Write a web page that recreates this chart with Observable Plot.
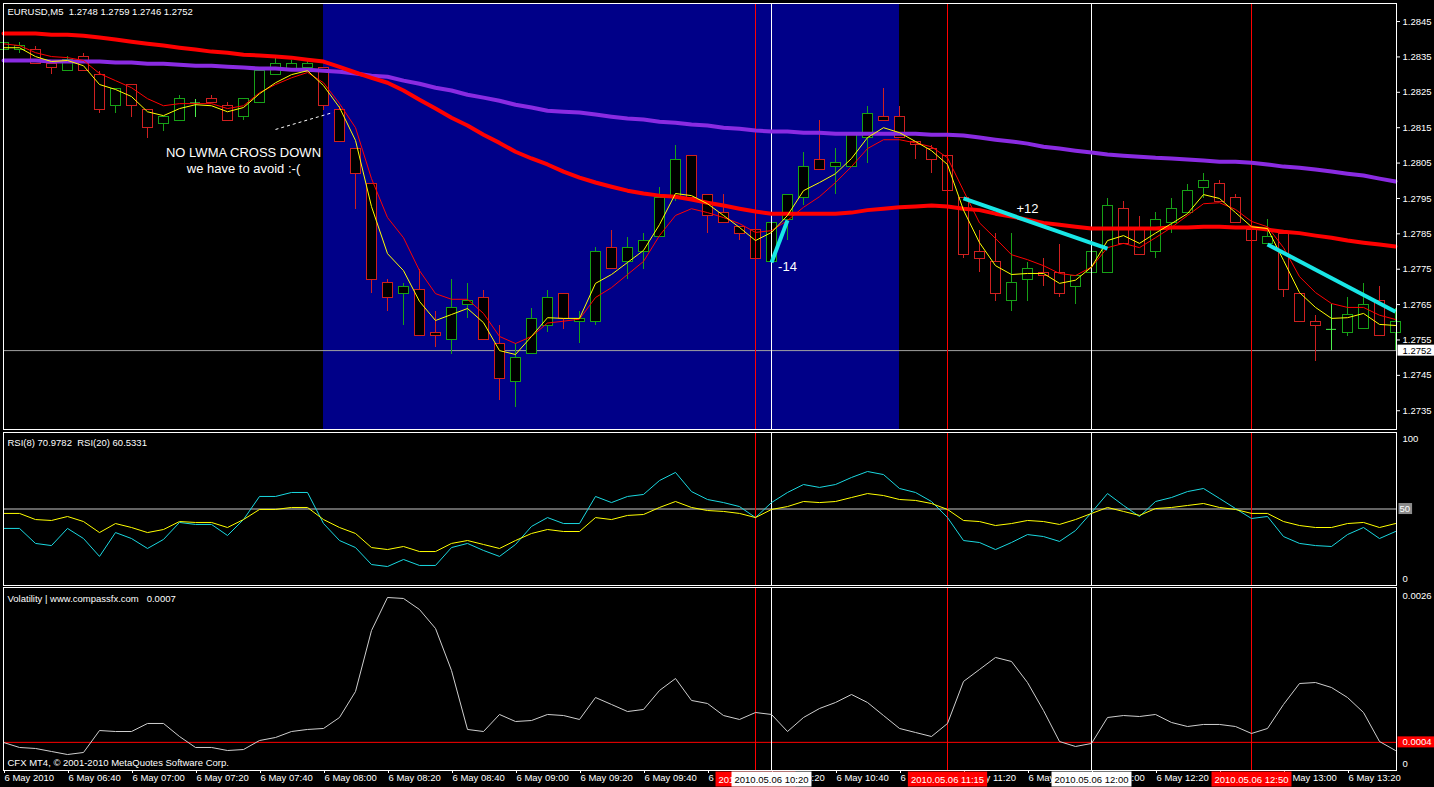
<!DOCTYPE html>
<html><head><meta charset="utf-8">
<script src="https://cdn.jsdelivr.net/npm/d3@7"></script>
<script src="https://cdn.jsdelivr.net/npm/@observablehq/plot@0.6"></script>
<style>
html,body{margin:0;padding:0;background:#000;}
#chart{position:relative;width:1434px;height:787px;background:#000;overflow:hidden;}
#chart > div{position:absolute;left:0;}
</style></head><body>
<div id="chart"><div id="pMain" style="top:0"></div><div id="pRsi" style="top:430px"></div><div id="pVol" style="top:586px"></div></div>
<script>
// ---------- DATA ----------
const firstBarTime = "06:20";   // M5 bars, 6 May 2010
const barMinutes = 5;

const open = [1.2837,1.2837,1.2837,1.2833,1.2831,1.2835,1.2830,1.2821,1.2827,1.2820,
1.2816,1.2817,1.2822,1.2823,1.2821,1.2818,1.2822,1.2830,1.2831,1.2832,
1.2832,1.2820,1.2809,1.2799,1.2771,1.2768,1.2769,1.2757,1.2755,1.2765,
1.2767,1.2754,1.2743,1.2751,1.2759,1.2768,1.2760,1.2760,1.2781,1.2777,
1.2780,1.2784,1.2795,1.2807,1.2796,1.2791,1.2787,1.2786,1.2777,1.2789,
1.2795,1.2806,1.2804,1.2804,1.2812,1.2818,1.2818,1.2811,1.2809,1.2807,
1.2795,1.2780,1.2777,1.2766,1.2772,1.2774,1.2774,1.2770,1.2774,1.2774,
1.2792,1.2786,1.2780,1.2788,1.2791,1.2798,1.2799,1.2795,1.2786,1.2782,
1.2785,1.2768,1.2760,1.2758,1.2757,1.2758,1.2766,1.2757];
const high = [1.2840,1.2839,1.2838,1.2834,1.2835,1.2836,1.2831,1.2826,1.2827,1.2820,
1.2818,1.2824,1.2823,1.2824,1.2822,1.2823,1.2831,1.2835,1.2834,1.2834,
1.2832,1.2821,1.2809,1.2799,1.2772,1.2771,1.2775,1.2763,1.2772,1.2771,
1.2769,1.2759,1.2754,1.2764,1.2769,1.2768,1.2763,1.2781,1.2786,1.2784,
1.2785,1.2798,1.2810,1.2807,1.2796,1.2796,1.2787,1.2786,1.2788,1.2796,
1.2808,1.2817,1.2809,1.2813,1.2821,1.2826,1.2821,1.2811,1.2810,1.2807,
1.2795,1.2786,1.2785,1.2785,1.2777,1.2778,1.2782,1.2773,1.2780,1.2795,
1.2794,1.2790,1.2791,1.2795,1.2799,1.2802,1.2800,1.2796,1.2786,1.2789,
1.2785,1.2768,1.2762,1.2765,1.2767,1.2771,1.2770,1.2764];
const low = [1.2836,1.2836,1.2833,1.2830,1.2831,1.2831,1.2819,1.2819,1.2818,1.2812,
1.2814,1.2817,1.2818,1.2822,1.2817,1.2817,1.2822,1.2830,1.2831,1.2832,
1.2820,1.2811,1.2792,1.2768,1.2763,1.2759,1.2756,1.2753,1.2751,1.2761,
1.2755,1.2738,1.2736,1.2751,1.2757,1.2758,1.2754,1.2759,1.2775,1.2772,
1.2775,1.2784,1.2794,1.2795,1.2785,1.2788,1.2783,1.2778,1.2777,1.2783,
1.2793,1.2803,1.2796,1.2804,1.2805,1.2817,1.2812,1.2806,1.2802,1.2797,
1.2778,1.2774,1.2766,1.2763,1.2766,1.2770,1.2767,1.2765,1.2774,1.2774,
1.2782,1.2779,1.2778,1.2785,1.2791,1.2795,1.2794,1.2788,1.2783,1.2782,
1.2767,1.2760,1.2749,1.2752,1.2756,1.2758,1.2756,1.2752];
const close = [1.2839,1.2838,1.2833,1.2832,1.2834,1.2831,1.2820,1.2826,1.2821,1.2815,
1.2818,1.2823,1.2822,1.2822,1.2817,1.2823,1.2831,1.2833,1.2833,1.2833,
1.2821,1.2811,1.2802,1.2772,1.2767,1.2770,1.2756,1.2756,1.2764,1.2766,
1.2755,1.2744,1.2750,1.2761,1.2767,1.2761,1.2761,1.2780,1.2775,1.2781,
1.2783,1.2795,1.2806,1.2795,1.2790,1.2788,1.2785,1.2778,1.2788,1.2796,
1.2804,1.2803,1.2805,1.2813,1.2819,1.2817,1.2812,1.2810,1.2806,1.2797,
1.2779,1.2778,1.2768,1.2771,1.2775,1.2773,1.2768,1.2773,1.2780,1.2793,
1.2782,1.2779,1.2789,1.2792,1.2797,1.2800,1.2794,1.2788,1.2783,1.2784,
1.2769,1.2760,1.2759,1.2758,1.2762,1.2765,1.2756,1.2760];

// fast LWMA (yellow), slow LWMA (thin red), long MA (thick red), very long MA (purple)
const lwmaFast = [1.28376,1.28376,1.28351,1.28337,1.28340,1.28325,1.28272,1.28258,1.28238,1.28195,
1.28184,1.28204,1.28215,1.28212,1.28195,1.28207,1.28246,1.28277,1.28300,1.28311,
1.28269,1.28207,1.28114,1.27927,1.27794,1.27746,1.27659,1.27605,1.27622,1.27639,
1.27599,1.27520,1.27509,1.27560,1.27613,1.27611,1.27611,1.27710,1.27735,1.27769,
1.27803,1.27876,1.27964,1.27958,1.27935,1.27902,1.27868,1.27831,1.27854,1.27902,
1.27972,1.27995,1.28020,1.28063,1.28122,1.28150,1.28136,1.28111,1.28085,1.28046,
1.27917,1.27825,1.27760,1.27735,1.27738,1.27738,1.27710,1.27719,1.27756,1.27831,
1.27845,1.27823,1.27852,1.27879,1.27907,1.27961,1.27950,1.27910,1.27870,1.27865,
1.27775,1.27684,1.27642,1.27611,1.27613,1.27625,1.27594,1.27591];
const lwmaSlow = [1.28387,1.28382,1.28362,1.28351,1.28348,1.28340,1.28303,1.28283,1.28263,1.28232,
1.28212,1.28218,1.28218,1.28218,1.28204,1.28212,1.28249,1.28272,1.28291,1.28306,
1.28277,1.28218,1.28150,1.28006,1.27896,1.27839,1.27746,1.27681,1.27665,1.27665,
1.27625,1.27560,1.27540,1.27560,1.27598,1.27603,1.27609,1.27670,1.27698,1.27735,
1.27772,1.27845,1.27902,1.27921,1.27910,1.27896,1.27879,1.27854,1.27859,1.27888,
1.27925,1.27955,1.27995,1.28040,1.28091,1.28116,1.28116,1.28107,1.28096,1.28065,
1.27972,1.27881,1.27837,1.27791,1.27777,1.27760,1.27738,1.27732,1.27756,1.27811,
1.27823,1.27811,1.27839,1.27868,1.27902,1.27935,1.27938,1.27919,1.27885,1.27870,
1.27811,1.27729,1.27684,1.27653,1.27642,1.27642,1.27620,1.27608];
const maLong = [1.28416,1.28416,1.28416,1.28413,1.28413,1.28410,1.28405,1.28399,1.28393,1.28387,
1.28382,1.28376,1.28371,1.28365,1.28362,1.28356,1.28354,1.28351,1.28348,1.28342,
1.28337,1.28322,1.28306,1.28291,1.28277,1.28255,1.28229,1.28204,1.28178,1.28156,
1.28130,1.28107,1.28082,1.28063,1.28046,1.28026,1.28009,1.27995,1.27983,1.27972,
1.27964,1.27958,1.27955,1.27947,1.27938,1.27930,1.27921,1.27913,1.27907,1.27907,
1.27907,1.27907,1.27907,1.27910,1.27917,1.27921,1.27925,1.27927,1.27930,1.27927,
1.27921,1.27917,1.27907,1.27899,1.27890,1.27881,1.27876,1.27870,1.27865,1.27865,
1.27865,1.27865,1.27865,1.27868,1.27868,1.27870,1.27870,1.27868,1.27868,1.27862,
1.27856,1.27852,1.27845,1.27839,1.27831,1.27825,1.27820,1.27814];
const maVeryLong = [1.28340,1.28340,1.28340,1.28337,1.28337,1.28337,1.28337,1.28334,1.28334,1.28331,
1.28331,1.28328,1.28325,1.28325,1.28322,1.28320,1.28317,1.28317,1.28314,1.28314,
1.28311,1.28308,1.28303,1.28297,1.28294,1.28283,1.28274,1.28263,1.28255,1.28243,
1.28235,1.28226,1.28215,1.28207,1.28198,1.28195,1.28193,1.28187,1.28181,1.28176,
1.28173,1.28167,1.28164,1.28159,1.28156,1.28150,1.28147,1.28142,1.28139,1.28139,
1.28136,1.28136,1.28133,1.28133,1.28133,1.28133,1.28133,1.28133,1.28130,1.28130,
1.28128,1.28122,1.28116,1.28111,1.28105,1.28096,1.28091,1.28085,1.28080,1.28074,
1.28071,1.28068,1.28065,1.28063,1.28060,1.28057,1.28054,1.28054,1.28051,1.28046,
1.28040,1.28037,1.28032,1.28026,1.28020,1.28015,1.28006,1.27998];

const rsi8 = [37.3,37.3,27.5,26.1,37.3,30.7,19.0,34.6,30.7,24.2,
30.1,41.2,39.9,39.9,32.7,43.1,58.2,58.2,60.8,60.8,
40.5,29.4,24.8,13.7,12.4,17.0,13.1,13.1,24.8,27.5,
22.9,19.0,26.8,38.6,44.4,40.5,40.5,58.2,54.2,58.2,
59.5,68.6,73.9,61.4,56.2,54.2,51.6,44.4,54.2,60.8,
66.0,64.1,66.0,70.6,74.5,72.5,63.4,60.8,54.9,44.4,
29.4,28.1,23.5,28.1,33.3,32.0,28.8,35.9,47.7,60.1,
52.3,45.1,54.9,57.5,61.4,63.4,56.9,50.3,43.8,45.1,
32.0,27.5,26.1,25.5,33.3,37.9,30.7,35.3];
const rsi20 = [47.1,47.1,43.1,42.5,45.1,41.8,34.6,40.5,37.9,34.6,
36.6,41.8,41.2,41.2,37.9,43.1,49.7,49.7,51.0,51.0,
43.1,37.9,34.0,24.8,23.5,25.5,22.2,22.2,27.5,29.4,
26.8,24.2,29.4,34.0,36.6,35.3,35.3,44.4,43.1,45.8,
46.4,51.0,54.9,51.0,49.0,48.4,47.1,44.4,49.7,51.6,
54.9,54.2,54.9,57.5,60.1,58.8,56.2,55.6,53.6,49.7,
42.5,41.8,39.2,40.5,42.5,41.8,39.9,43.1,47.1,51.0,
48.4,45.8,50.3,51.0,52.3,53.6,51.0,49.7,47.1,47.1,
41.8,39.2,37.9,37.9,40.5,41.2,37.9,40.5];
const volatility = [0.000398,0.000327,0.000313,0.000270,0.000227,0.000256,0.000568,0.000554,0.000554,0.000668,
0.000668,0.000483,0.000327,0.000327,0.000284,0.000298,0.000426,0.000469,0.000554,0.000583,
0.000597,0.000753,0.001122,0.001989,0.002458,0.002444,0.002287,0.002018,0.001421,0.000583,
0.000554,0.000796,0.000696,0.000710,0.000796,0.000781,0.000725,0.001037,0.000938,0.000838,
0.000867,0.001137,0.001307,0.000995,0.000952,0.000781,0.000725,0.000824,0.000796,0.000554,
0.000753,0.000881,0.000966,0.001080,0.000966,0.000781,0.000597,0.000540,0.000483,0.000668,
0.001265,0.001435,0.001606,0.001549,0.001250,0.000852,0.000412,0.000341,0.000384,0.000753,
0.000781,0.000767,0.000796,0.000682,0.000625,0.000654,0.000654,0.000625,0.000526,0.000597,
0.000938,0.001236,0.001250,0.001179,0.001037,0.000824,0.000412,0.000284];

const priceTicks = [1.2845,1.2835,1.2825,1.2815,1.2805,1.2795,1.2785,1.2775,1.2765,1.2755,1.2745,1.2735];
const bidPrice = 1.2752;
const volLevel = 0.0004;
const timeTicks = ["06:20","06:40","07:00","07:20","07:40","08:00","08:20","08:40","09:00","09:20","09:40",
  "10:00","10:20","10:40","11:00","11:20","11:40","12:00","12:20","12:40","13:00","13:20"];
const timeTickLabels = ["6 May 2010","6 May 06:40","6 May 07:00","6 May 07:20","6 May 07:40","6 May 08:00","6 May 08:20",
  "6 May 08:40","6 May 09:00","6 May 09:20","6 May 09:40","6 May 10:00","6 May 10:20","6 May 10:40","6 May 11:00",
  "6 May 11:20","6 May 11:40","6 May 12:00","6 May 12:20","6 May 12:40","6 May 13:00","6 May 13:20"];
const zones = [{from: "08:00", to: "11:00"}];
const markers = [
  {time: "10:15", color: "#ff0000", label: "2010.05.06 10:15"},
  {time: "10:20", color: "#ffffff", label: "2010.05.06 10:20"},
  {time: "11:15", color: "#ff0000", label: "2010.05.06 11:15"},
  {time: "12:00", color: "#ffffff", label: "2010.05.06 12:00"},
  {time: "12:50", color: "#ff0000", label: "2010.05.06 12:50"}];
const trades = [
  {from: "10:20", p1: 1.27769, to: "10:25", p2: 1.27888},
  {from: "11:20", p1: 1.27950, to: "12:05", p2: 1.27808},
  {from: "12:55", p1: 1.27820, to: "13:35", p2: 1.27630}];
const notes = [
  {time: "07:35", price: 1.28059, text: "NO LWMA CROSS DOWN\nwe have to avoid :-("},
  {time: "11:40", price: 1.27924, text: "+12"},
  {time: "10:25", price: 1.27760, text: "-14"}];
const pointer = [{fromBar: 17, fromPrice: 1.28145, toBar: 20.6, toPrice: 1.28193}];

// ---------- BUILD ----------
const toMin = t => { const [h, m] = t.split(":").map(Number); return h * 60 + m; };
const idx = t => (toMin(t) - toMin(firstBarTime)) / barMinutes;
const BULL = "#17a117", BEAR = "#cf2020", DOJI = "#4cf04c";
const bars = open.map((o, i) => ({
  i, open: o, high: high[i], low: low[i], close: close[i],
  fast: lwmaFast[i], slow: lwmaSlow[i], ma: maLong[i], ma2: maVeryLong[i],
  r8: rsi8[i], r20: rsi20[i], vol: volatility[i],
  color: close[i] > o ? BULL : close[i] < o ? BEAR : DOJI
}));
const half = 0.3125;
const tickIdx = timeTicks.map(idx);
const tickLabelOf = new Map(tickIdx.map((d, k) => [d, timeTickLabels[k]]));

const FONT = "'Liberation Sans', Arial, sans-serif";
const W = 1434, ML = 3, MR = 38;
const xScale = {domain: [0, 87.0625], axis: null};
const style = {background: "transparent", color: "white", fontFamily: FONT, fontSize: "9.5px", overflow: "visible"};
const vRules = () => Plot.ruleX(markers, {x: d => idx(d.time), stroke: "color"});

const main = Plot.plot({
  width: W, height: 431, marginTop: 3, marginBottom: 2, marginLeft: ML, marginRight: MR,
  x: xScale, y: {domain: [1.27297, 1.28501]}, color: {type: "identity"}, style,
  marks: [
    Plot.rect(zones, {x1: d => idx(d.from), x2: d => idx(d.to), fill: "#000088"}),
    Plot.ruleY([bidPrice], {stroke: "#a0a0a0"}),
    Plot.ruleX(bars, {x: "i", y1: "low", y2: "high", stroke: "color", shapeRendering: "crispEdges"}),
    Plot.rect(bars.filter(d => d.open !== d.close), {x1: d => d.i - half, x2: d => d.i + half, y1: "open", y2: "close",
      fill: "black", stroke: "color", shapeRendering: "crispEdges"}),
    Plot.ruleY(bars.filter(d => d.open === d.close), {y: "open", x1: d => d.i - half, x2: d => d.i + half, stroke: "color"}),
    vRules(),
    Plot.line(bars, {x: "i", y: "ma2", stroke: "#8a2be2", strokeWidth: 4}),
    Plot.line(bars, {x: "i", y: "ma", stroke: "#ff0000", strokeWidth: 4}),
    Plot.line(bars, {x: "i", y: "slow", stroke: "#ff0000", strokeWidth: 1}),
    Plot.line(bars, {x: "i", y: "fast", stroke: "#ffff00", strokeWidth: 1}),
    Plot.link(trades, {x1: d => idx(d.from), y1: "p1", x2: d => idx(d.to), y2: "p2", stroke: "#18e6e6", strokeWidth: 4}),
    Plot.link(pointer, {x1: "fromBar", y1: "fromPrice", x2: "toBar", y2: "toPrice", stroke: "white", strokeDasharray: "3,3"}),
    Plot.text(notes, {x: d => idx(d.time), y: "price", text: "text", fill: "white", fontSize: 13, lineHeight: 1.2}),
    Plot.axisY(priceTicks, {anchor: "right", tickFormat: d3.format(".4f"), tickSize: 3, tickPadding: 3, label: null}),
    Plot.text([bidPrice], {y: d => d, text: d => d3.format(".4f")(d), frameAnchor: "right", dx: 6, textAnchor: "start",
      fill: "black"}),
    Plot.frame({stroke: "white", shapeRendering: "crispEdges"}),
    Plot.text(["EURUSD,M5\u00a0\u00a01.2748 1.2759 1.2746 1.2752"], {text: d => d, frameAnchor: "top-left", dx: 4, dy: 8,
      lineAnchor: "middle", textAnchor: "start", fill: "white"})
  ]
});

const rsi = Plot.plot({
  width: W, height: 157, marginTop: 2, marginBottom: 2, marginLeft: ML, marginRight: MR,
  x: xScale, y: {domain: [0, 100], axis: null}, color: {type: "identity"}, style,
  marks: [
    Plot.ruleY([50], {stroke: "#c8c8c8"}),
    vRules(),
    Plot.line(bars, {x: "i", y: "r8", stroke: "#1ad8e0", strokeWidth: 1}),
    Plot.line(bars, {x: "i", y: "r20", stroke: "#ffff00", strokeWidth: 1}),
    Plot.frame({stroke: "white", shapeRendering: "crispEdges"}),
    Plot.text([100], {y: d => d, text: d => `${d}`, frameAnchor: "right", dx: 6, dy: 6, textAnchor: "start", fill: "white"}),
    Plot.text([50], {y: d => d, text: d => `${d}`, frameAnchor: "right", dx: 3, textAnchor: "start", fill: "white"}),
    Plot.text([0], {y: d => d, text: d => `${d}`, frameAnchor: "right", dx: 6, dy: -7, textAnchor: "start", fill: "white"}),
    Plot.text(["RSI(8) 70.9782\u00a0\u00a0RSI(20) 60.5331"], {text: d => d, frameAnchor: "top-left", dx: 4, dy: 10,
      lineAnchor: "middle", textAnchor: "start", fill: "white"})
  ]
});

const vol = Plot.plot({
  width: W, height: 201, marginTop: 1, marginBottom: 17, marginLeft: ML, marginRight: MR,
  x: xScale, y: {domain: [0, 0.0026], axis: null}, color: {type: "identity"}, style,
  marks: [
    Plot.ruleY([volLevel], {stroke: "#ff0000"}),
    vRules(),
    Plot.line(bars, {x: "i", y: "vol", stroke: "#cfcfcf", strokeWidth: 1}),
    Plot.frame({stroke: "white", shapeRendering: "crispEdges"}),
    Plot.text([0.0026], {y: d => d, text: d => `${d}`, frameAnchor: "right", dx: 6, dy: 8, textAnchor: "start", fill: "white"}),
    Plot.text([volLevel], {y: d => d, text: d => d3.format(".4f")(d), frameAnchor: "right", dx: 6, textAnchor: "start",
      fill: "white"}),
    Plot.text([0], {y: d => d, text: d => `${d}`, frameAnchor: "right", dx: 6, dy: -7, textAnchor: "start", fill: "white"}),
    Plot.text(["Volatility | www.compassfx.com\u00a0\u00a0\u00a00.0007"], {text: d => d, frameAnchor: "top-left", dx: 4, dy: 11,
      lineAnchor: "middle", textAnchor: "start", fill: "white"}),
    Plot.text(["CFX MT4, \u00a9 2001-2010 MetaQuotes Software Corp."], {text: d => d, frameAnchor: "bottom-left", dx: 4, dy: -8,
      lineAnchor: "middle", textAnchor: "start", fill: "white"}),
    Plot.axisX(tickIdx, {anchor: "bottom", tickSize: 3, tickPadding: 1, tickFormat: d => tickLabelOf.get(d),
      textAnchor: "start", dx: 1, label: null}),
    Plot.text(markers.filter(d => d.color !== "#ffffff"), {x: d => idx(d.time), text: "label", frameAnchor: "bottom", dy: 9,
      lineAnchor: "middle", fill: "white"}),
    Plot.text(markers.filter(d => d.color === "#ffffff"), {x: d => idx(d.time), text: "label", frameAnchor: "bottom", dy: 9,
      lineAnchor: "middle", fill: "black"})
  ]
});

document.getElementById("pMain").appendChild(main);
document.getElementById("pRsi").appendChild(rsi);
document.getElementById("pVol").appendChild(vol);

// background boxes behind label texts (sized from the rendered text)
function addBg(svg, str, fill, pad) {
  svg.querySelectorAll("text").forEach(t => {
    if (t.textContent !== str) return;
    const b = t.getBBox();
    const r = document.createElementNS("http://www.w3.org/2000/svg", "rect");
    r.setAttribute("x", b.x - pad.l);
    r.setAttribute("y", b.y - pad.t);
    r.setAttribute("width", b.width + pad.l + pad.r);
    r.setAttribute("height", b.height + pad.t + pad.b);
    r.setAttribute("fill", fill);
    if (t.hasAttribute("transform")) r.setAttribute("transform", t.getAttribute("transform"));
    t.parentNode.insertBefore(r, t);
  });
}
addBg(main, d3.format(".4f")(bidPrice), "#ffffff", {l: 5, r: 8, t: 0, b: 0});
addBg(rsi, "50", "#8c8c8c", {l: 1, r: 2, t: 0, b: 0});
addBg(vol, d3.format(".4f")(volLevel), "#ff0000", {l: 5, r: 8, t: 0, b: 0});
markers.forEach(m => addBg(vol, m.label, m.color, {l: 3, r: 3, t: 2, b: 2}));
</script>
</body></html>
